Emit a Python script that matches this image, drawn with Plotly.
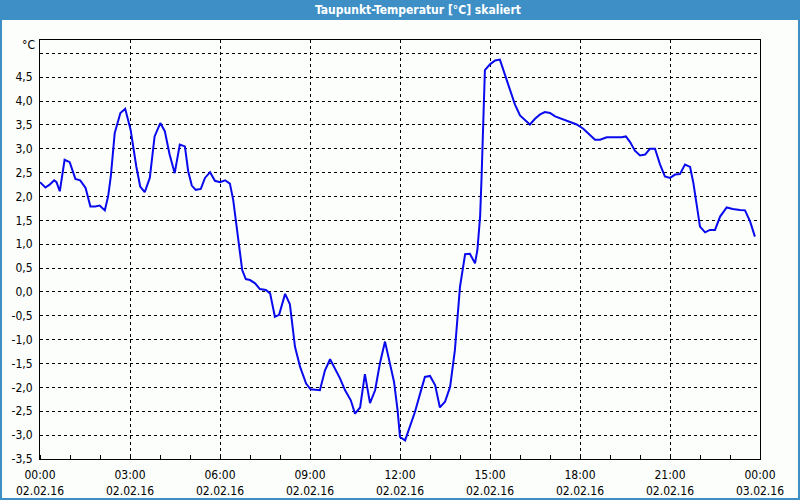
import plotly.graph_objects as go

title_text = "Taupunkt-Temperatur [°C] skaliert"

hours = [0.0, 0.18, 0.32, 0.47, 0.55, 0.66, 0.82, 0.99, 1.18, 1.34, 1.52, 1.68, 1.84, 1.99, 2.16, 2.27,
         2.36, 2.49, 2.68, 2.84, 3.02, 3.21, 3.34, 3.49, 3.66, 3.82, 4.01, 4.16, 4.32, 4.49, 4.66, 4.83,
         4.94, 5.06, 5.19, 5.36, 5.5, 5.67, 5.83, 6.0, 6.17, 6.33, 6.44, 6.56, 6.67, 6.74, 6.86, 7.0,
         7.17, 7.33, 7.53, 7.67, 7.83, 7.97, 8.17, 8.33, 8.5, 8.67, 8.87, 9.02, 9.33, 9.5, 9.67, 9.83,
         10.0, 10.17, 10.36, 10.5, 10.67, 10.83, 11.0, 11.17, 11.33, 11.5, 11.67, 11.8, 11.92, 12.0,
         12.17, 12.33, 12.5, 12.67, 12.83, 13.0, 13.17, 13.33, 13.5, 13.67, 13.83, 14.0, 14.17, 14.33,
         14.5, 14.58, 14.67, 14.72, 14.78, 14.81, 14.83, 15.0, 15.17, 15.33, 15.5, 15.67, 15.83, 16.0,
         16.17, 16.33, 16.5, 16.67, 16.83, 17.0, 17.17, 17.44, 17.67, 17.89, 18.11, 18.33, 18.5, 18.67,
         18.89, 19.17, 19.39, 19.53, 19.67, 19.83, 20.0, 20.17, 20.33, 20.5, 20.67, 20.83, 21.0, 21.17,
         21.33, 21.5, 21.67, 21.78, 21.89, 22.0, 22.17, 22.33, 22.5, 22.67, 22.89, 23.09, 23.33, 23.5,
         23.67, 23.83]

dewpoint = [2.30, 2.19, 2.25, 2.34, 2.30, 2.11, 2.77, 2.72, 2.37, 2.34, 2.18, 1.79, 1.79, 1.81, 1.71, 2.00,
            2.42, 3.33, 3.75, 3.84, 3.40, 2.63, 2.21, 2.09, 2.39, 3.26, 3.54, 3.37, 2.88, 2.49, 3.09, 3.05,
            2.53, 2.23, 2.14, 2.16, 2.39, 2.51, 2.33, 2.30, 2.34, 2.27, 1.93, 1.37, 0.74, 0.46, 0.27, 0.25,
            0.18, 0.06, 0.04, -0.03, -0.52, -0.48, -0.04, -0.26, -1.15, -1.57, -1.92, -2.04, -2.06, -1.64,
            -1.41, -1.60, -1.81, -2.06, -2.27, -2.55, -2.42, -1.72, -2.33, -2.06, -1.50, -1.04, -1.50, -1.88,
            -2.48, -3.04, -3.11, -2.83, -2.51, -2.13, -1.78, -1.76, -1.95, -2.42, -2.30, -1.99, -1.22, 0.11,
            0.79, 0.80, 0.60, 0.88, 1.58, 2.42, 3.47, 4.03, 4.65, 4.77, 4.85, 4.87, 4.56, 4.24, 3.93, 3.70,
            3.61, 3.51, 3.63, 3.72, 3.77, 3.75, 3.68, 3.61, 3.56, 3.51, 3.42, 3.28, 3.19, 3.19, 3.24, 3.24,
            3.24, 3.26, 3.14, 2.96, 2.86, 2.88, 3.00, 3.00, 2.67, 2.42, 2.39, 2.46, 2.47, 2.67, 2.62, 2.28,
            1.86, 1.37, 1.25, 1.30, 1.30, 1.58, 1.77, 1.74, 1.72, 1.71, 1.48, 1.16]

y_ticks = [-3.5, -3.0, -2.5, -2.0, -1.5, -1.0, -0.5, 0.0, 0.5, 1.0, 1.5, 2.0, 2.5, 3.0, 3.5, 4.0, 4.5, 5.0]
y_labels = ["-3,5", "-3,0", "-2,5", "-2,0", "-1,5", "-1,0", "-0,5", "0,0", "0,5", "1,0", "1,5", "2,0",
            "2,5", "3,0", "3,5", "4,0", "4,5", ""]
x_ticks = [0, 3, 6, 9, 12, 15, 18, 21, 24]
x_labels = ["00:00<br>02.02.16", "03:00<br>02.02.16", "06:00<br>02.02.16", "09:00<br>02.02.16",
            "12:00<br>02.02.16", "15:00<br>02.02.16", "18:00<br>02.02.16", "21:00<br>02.02.16",
            "00:00<br>03.02.16"]

BLUE_BAR = "#3d8fc6"
BG = "#fbfefb"
FONT = "DejaVu Sans Condensed, DejaVu Sans, sans-serif"

W, H = 800, 500
pl, pr, pt, pb = 40, 40, 40, 41
pw, ph = W - pl - pr, H - pt - pb


def px_x(x):
    return (x - pl) / pw


def px_y(y):
    return (H - pb - y) / ph


fig = go.Figure()
fig.add_trace(go.Scatter(x=hours, y=dewpoint, mode="lines",
                         line=dict(color="#0a0aee", width=2), showlegend=False, hoverinfo="skip"))

fig.update_layout(
    width=W, height=H,
    margin=dict(l=pl, r=pr, t=pt, b=pb, pad=0, autoexpand=False),
    paper_bgcolor=BG, plot_bgcolor=BG,
    font=dict(family=FONT, size=12, color="#000000"),
    xaxis=dict(range=[0, 24], tickvals=x_ticks, ticktext=x_labels, automargin=False,
               showgrid=True, gridcolor="#000000", gridwidth=1, griddash="3px,3px",
               showline=True, linecolor="#000000", linewidth=1, mirror=True,
               ticks="", zeroline=False, ticklabelstandoff=5,
               minor=dict(dtick=1, ticks="inside", ticklen=4, tickcolor="#000000", showgrid=False),
               tickfont=dict(family=FONT, size=12)),
    yaxis=dict(range=[-3.5, 5.28], tickvals=y_ticks, ticktext=y_labels, automargin=False,
               showgrid=True, gridcolor="#000000", gridwidth=1, griddash="3px,3px",
               showline=True, linecolor="#000000", linewidth=1, mirror=True,
               ticks="", zeroline=False, ticklabelstandoff=4,
               tickfont=dict(family=FONT, size=12)),
)

# title bar and window frame
fig.add_shape(type="rect", xref="paper", yref="paper", x0=px_x(0), x1=px_x(800), y0=px_y(20), y1=px_y(0),
              fillcolor=BLUE_BAR, line=dict(width=0), layer="above")
fig.add_shape(type="rect", xref="paper", yref="paper", x0=px_x(0), x1=px_x(2), y0=px_y(500), y1=px_y(0),
              fillcolor=BLUE_BAR, line=dict(width=0), layer="above")
fig.add_shape(type="rect", xref="paper", yref="paper", x0=px_x(798), x1=px_x(800), y0=px_y(500), y1=px_y(0),
              fillcolor=BLUE_BAR, line=dict(width=0), layer="above")
fig.add_shape(type="rect", xref="paper", yref="paper", x0=px_x(0), x1=px_x(800), y0=px_y(500), y1=px_y(498),
              fillcolor=BLUE_BAR, line=dict(width=0), layer="above")

fig.add_annotation(text="<b>" + title_text + "</b>", xref="paper", yref="paper",
                   x=px_x(418), y=px_y(10), xanchor="center", yanchor="middle", showarrow=False,
                   font=dict(family=FONT, size=12, color="#ffffff"))
fig.add_annotation(text="°C", xref="paper", yref="paper", x=px_x(37), y=px_y(45),
                   xanchor="right", yanchor="middle", showarrow=False,
                   font=dict(family=FONT, size=12, color="#000000"))

fig.write_html("out.html")
